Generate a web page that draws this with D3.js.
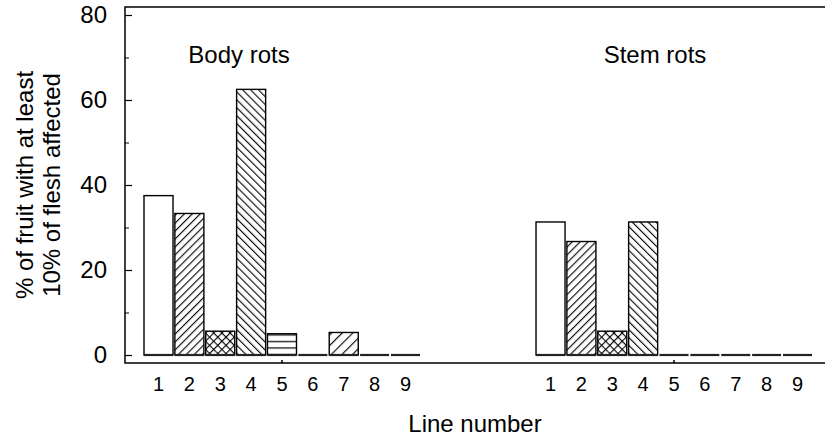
<!DOCTYPE html>
<html>
<head>
<meta charset="utf-8">
<script src="https://cdn.jsdelivr.net/npm/d3@7"></script>
<style>
  body { margin: 0; background: #fff; }
  svg { display: block; font-family: "Liberation Sans", Arial, sans-serif; }
</style>
</head>
<body>
<svg id="chart" width="825" height="445"></svg>
<script>
// data
const groups = ["Body rots", "Stem rots"];
const lineNumbers = [1, 2, 3, 4, 5, 6, 7, 8, 9];
const bodyRots = [37.5, 33.3, 5.6, 62.5, 5.0, 0, 5.3, 0, 0];
const stemRots = [31.3, 26.7, 5.6, 31.3, 0, 0, 0, 0, 0];
const yTicks = [0, 20, 40, 60, 80];
const yMinorTicks = [10, 30, 50, 70];

// hatch used for each line number
const hatchFor = { 1: null, 2: "fwd", 3: "cross", 4: "back", 5: "horiz", 6: null, 7: "fwdWide", 8: null, 9: null };

const svg = d3.select("#chart");
const frame = { left: 125, top: 7, right: 825, bottom: 363 };

const y = d3.scaleLinear().domain([0, 80]).range([355, 15]);
const xGroup = d3.scaleBand().domain(groups).range([144, 812]).paddingInner(0.296);
const xLine = d3.scaleBand().domain(lineNumbers).range([0, xGroup.bandwidth()]).paddingInner(0.06);

// hatch patterns
const defs = svg.append("defs");
function hatch(id, size, angle, paths, w) {
    let p = defs.append("pattern")
        .attr("id", id)
        .attr("patternUnits", "userSpaceOnUse")
        .attr("width", size).attr("height", size)
        .attr("patternTransform", angle ? `rotate(${angle})` : null);
    p.append("rect").attr("width", size).attr("height", size).attr("fill", "#fff");
    paths.forEach(d => p.append("path").attr("d", d).attr("stroke", "#000").attr("stroke-width", w || 1.1));
}
hatch("fwd", 5.6, 45, ["M0.6,0V5.6"]);
hatch("back", 5.6, -45, ["M0.6,0V5.6"]);
hatch("cross", 5.8, 45, ["M0.6,0V5.8", "M0,0.6H5.8"]);
hatch("horiz", 6.5, 0, ["M0,3.5H6.5"], 1.2);
hatch("fwdWide", 7.5, 45, ["M0.6,0V7.5"]);

// frame: left, top and bottom lines
const g = svg.append("g");
g.append("path")
    .attr("d", `M${frame.right},${frame.top}H${frame.left}V${frame.bottom}H${frame.right}`)
    .attr("fill", "none").attr("stroke", "#000").attr("stroke-width", 1.5);

// y axis, ticks pointing inward
const yAxis = g.append("g").attr("transform", `translate(${frame.left},0)`)
    .call(d3.axisLeft(y).tickValues(yTicks).tickSize(-7).tickPadding(18));
yAxis.select(".domain").remove();
yAxis.selectAll("line").attr("stroke-width", 1.2);
yAxis.selectAll("text").attr("font-size", 24).attr("font-family", "Liberation Sans, Arial").attr("fill", "#000");

const yMinor = g.append("g").attr("transform", `translate(${frame.left},0)`)
    .call(d3.axisLeft(y).tickValues(yMinorTicks).tickSize(-4).tickFormat(""));
yMinor.select(".domain").remove();

// bars
const series = [bodyRots, stemRots];
const titleShift = [-43, -19];
groups.forEach((grp, gi) => {
    const gx = xGroup(grp);
    const bars = g.append("g").attr("transform", `translate(${gx},0)`);
    const rows = lineNumbers.map((n, i) => ({ n: n, v: series[gi][i] }));

    bars.selectAll("rect.bar").data(rows.filter(d => d.v > 0)).enter()
        .append("rect").attr("class", "bar")
        .attr("x", d => xLine(d.n))
        .attr("y", d => y(d.v))
        .attr("width", xLine.bandwidth())
        .attr("height", d => y(0) - y(d.v))
        .attr("fill", d => hatchFor[d.n] ? `url(#${hatchFor[d.n]})` : "#fff")
        .attr("stroke", "#000").attr("stroke-width", 1.4);

    // every bar sits on a baseline stroke (zero values show only this)
    bars.selectAll("line.base").data(rows).enter()
        .append("line").attr("class", "base")
        .attr("x1", d => xLine(d.n)).attr("x2", d => xLine(d.n) + xLine.bandwidth())
        .attr("y1", y(0)).attr("y2", y(0))
        .attr("stroke", "#222").attr("stroke-width", 2.2);

    // line number labels
    const xAxis = bars.append("g").attr("transform", `translate(0,${frame.bottom})`)
        .call(d3.axisBottom(xLine).tickSize(0).tickPadding(14));
    xAxis.select(".domain").remove();
    xAxis.selectAll("text").attr("font-size", 20).attr("font-family", "Liberation Sans, Arial").attr("fill", "#000");

    // small centre tick on the bottom line
    const cx = xLine(5) + xLine.bandwidth() / 2;
    bars.append("line")
        .attr("x1", cx).attr("x2", cx)
        .attr("y1", frame.bottom).attr("y2", frame.bottom - 3)
        .attr("stroke", "#000").attr("stroke-width", 1.5);

    // group title
    g.append("text")
        .attr("x", gx + xGroup.bandwidth() / 2 + titleShift[gi])
        .attr("y", 63)
        .attr("text-anchor", "middle")
        .attr("font-size", 24)
        .text(grp);
});

// axis titles
g.append("text")
    .attr("x", 475).attr("y", 432)
    .attr("text-anchor", "middle").attr("font-size", 24)
    .text("Line number");

const yTitle = g.append("text")
    .attr("transform", "translate(0,185) rotate(-90)")
    .attr("text-anchor", "middle").attr("font-size", 24);
yTitle.append("tspan").attr("x", 0).attr("y", 33).text("% of fruit with at least");
yTitle.append("tspan").attr("x", 0).attr("y", 60).text("10% of flesh affected");
</script>
</body>
</html>
